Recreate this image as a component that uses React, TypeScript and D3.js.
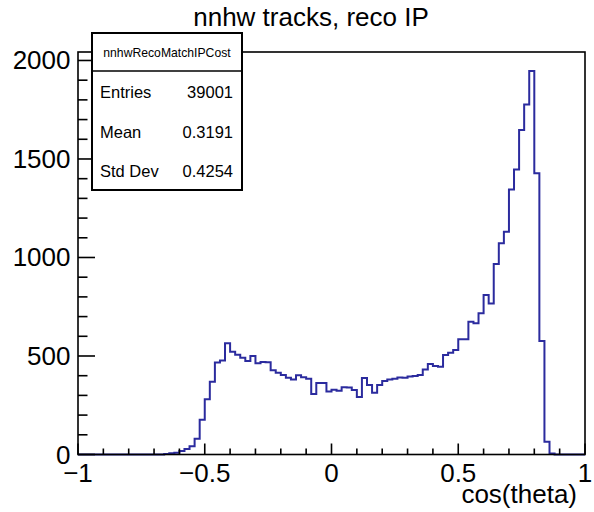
import React from "react";
import * as d3 from "d3";

// Histogram: cos(theta) of reconstructed tracks, 100 bins on [-1, 1]
const xMin = -1;
const xMax = 1;
const nBins = 100;

const binCounts: number[] = [
  0, 0, 0, 0, 0, 0, 0, 0, 0, 0,
  0, 0, 0, 0, 0, 0, 0, 3, 6, 9,
  18, 28, 42, 80, 177, 281, 369, 467, 477, 565,
  522, 506, 491, 475, 500, 463, 469, 468, 428, 415,
  404, 390, 381, 402, 392, 385, 307, 363, 363, 320,
  329, 323, 341, 340, 327, 292, 388, 353, 314, 353,
  373, 381, 384, 391, 390, 396, 399, 403, 432, 459,
  449, 446, 505, 517, 530, 585, 585, 674, 666, 717,
  810, 767, 967, 1072, 1130, 1345, 1447, 1647, 1777, 1947,
  1427, 576, 65, 5, 0, 0, 0, 0, 0, 0,
];

const xTickValues = [-1, -0.5, 0, 0.5, 1];
const xTickLabels = ["\u22121", "\u22120.5", "0", "0.5", "1"];
const yTickValues = [0, 500, 1000, 1500, 2000];

const titleText = "nnhw tracks, reco IP";
const xAxisTitle = "cos(theta)";
const statsName = "nnhwRecoMatchIPCost";
const statsLabels = ["Entries", "Mean", "Std Dev"];
const statsValues = ["39001", "0.3191", "0.4254"];

const W = 594;
const H = 512;
const frame = { left: 78, right: 585, top: 52, bottom: 454.5 };
const yMax = 2043;
const FONT = "'Liberation Sans', Arial, Helvetica, sans-serif";
const LINE = "#2b2b9e";

export default function App() {
  const x = d3.scaleLinear().domain([xMin, xMax]).range([frame.left, frame.right]);
  const y = d3.scaleLinear().domain([0, yMax]).range([frame.bottom, frame.top]);

  const binWidth = (xMax - xMin) / nBins;
  const pts: [number, number][] = [[xMin, 0]];
  binCounts.forEach((c, i) => pts.push([xMin + i * binWidth, c]));
  pts.push([xMax, binCounts[binCounts.length - 1]]);
  pts.push([xMax, 0]);

  const histPath = d3
    .line<[number, number]>()
    .x((d) => x(d[0]))
    .y((d) => y(d[1]))
    .curve(d3.curveStepAfter)(pts) as string;

  const yMinor = d3.range(0, yMax, 100);
  const xMinor = d3.range(-10, 11).map((k) => k / 10);

  const box = { x: 92, y: 33, w: 150, h: 157, sep: 71 };
  const rowY = [98, 138, 177];

  return (
    <svg
      width={W}
      height={H}
      style={{ position: "absolute", left: 0, top: 0, background: "#fff" }}
      fontFamily={FONT}
    >
      <rect x={0} y={0} width={W} height={H} fill="#fff" />

      {/* title */}
      <text x={311} y={26} fontSize={26} textAnchor="middle" fill="#000">
        {titleText}
      </text>

      {/* histogram outline */}
      <path d={histPath} fill="none" stroke={LINE} strokeWidth={2} />

      {/* frame */}
      <rect
        x={frame.left}
        y={frame.top}
        width={frame.right - frame.left}
        height={frame.bottom - frame.top}
        fill="none"
        stroke="#000"
        strokeWidth={1.6}
      />

      {/* y axis ticks */}
      {yMinor.map((v) => (
        <line
          key={"ym" + v}
          x1={frame.left}
          x2={frame.left + (v % 500 === 0 ? 17 : 9.5)}
          y1={y(v)}
          y2={y(v)}
          stroke="#000"
          strokeWidth={1.6}
        />
      ))}
      {yTickValues.map((v) => (
        <text
          key={"yl" + v}
          x={70.5}
          y={y(v) + 9}
          fontSize={26}
          textAnchor="end"
          fill="#000"
        >
          {v}
        </text>
      ))}

      {/* x axis ticks */}
      {xMinor.map((v) => {
        const major = Math.abs(v * 2 - Math.round(v * 2)) < 1e-9;
        return (
          <line
            key={"xm" + v}
            x1={x(v)}
            x2={x(v)}
            y1={frame.bottom}
            y2={frame.bottom - (major ? 11 : 6)}
            stroke="#000"
            strokeWidth={1.6}
          />
        );
      })}
      {xTickValues.map((v, i) => (
        <text
          key={"xl" + v}
          x={x(v)}
          y={482}
          fontSize={26}
          textAnchor="middle"
          fill="#000"
        >
          {xTickLabels[i]}
        </text>
      ))}
      <text x={577} y={503} fontSize={26} textAnchor="end" fill="#000">
        {xAxisTitle}
      </text>

      {/* statistics box */}
      <rect
        x={box.x}
        y={box.y}
        width={box.w}
        height={box.h}
        fill="#fff"
        stroke="#000"
        strokeWidth={2}
      />
      <line
        x1={box.x}
        x2={box.x + box.w}
        y1={box.sep}
        y2={box.sep}
        stroke="#000"
        strokeWidth={1.6}
      />
      <text
        x={box.x + box.w / 2}
        y={57}
        fontSize={12.2}
        textAnchor="middle"
        fill="#000"
      >
        {statsName}
      </text>
      {statsLabels.map((lab, i) => (
        <g key={lab}>
          <text x={100} y={rowY[i]} fontSize={16.5} fill="#000">
            {lab}
          </text>
          <text x={233} y={rowY[i]} fontSize={16.5} textAnchor="end" fill="#000">
            {statsValues[i]}
          </text>
        </g>
      ))}
    </svg>
  );
}
